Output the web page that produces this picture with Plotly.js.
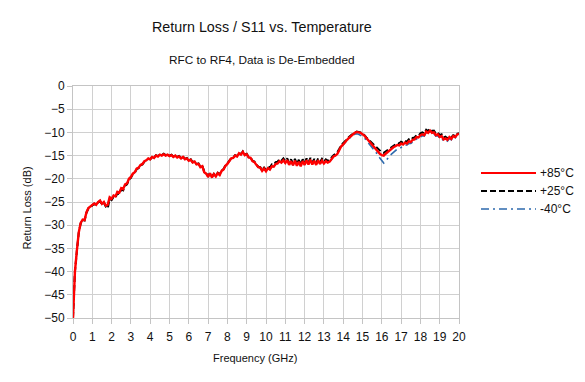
<!DOCTYPE html>
<html>
<head>
<meta charset="utf-8">
<script src="https://cdn.plot.ly/plotly-3.0.1.min.js"></script>
<style>html,body{margin:0;padding:0;background:#fff;}#chart{width:585px;height:382px;}</style>
</head>
<body>
<div id="chart"></div>
<script>
const freqGHz = [
0,0.1,0.2,0.3,0.4,0.5,0.6,0.7,0.8,0.9,
1,1.1,1.2,1.3,1.4,1.5,1.6,1.7,1.8,1.9,
2,2.1,2.2,2.3,2.4,2.5,2.6,2.7,2.8,2.9,
3,3.1,3.2,3.3,3.4,3.5,3.6,3.7,3.8,3.9,
4,4.1,4.2,4.3,4.4,4.5,4.6,4.7,4.8,4.9,
5,5.1,5.2,5.3,5.4,5.5,5.6,5.7,5.8,5.9,
6,6.1,6.2,6.3,6.4,6.5,6.6,6.7,6.8,6.9,
7,7.1,7.2,7.3,7.4,7.5,7.6,7.7,7.8,7.9,
8,8.1,8.2,8.3,8.4,8.5,8.6,8.7,8.8,8.9,
9,9.1,9.2,9.3,9.4,9.5,9.6,9.7,9.8,9.9,
10,10.1,10.2,10.3,10.4,10.5,10.6,10.7,10.8,10.9,
11,11.1,11.2,11.3,11.4,11.5,11.6,11.7,11.8,11.9,
12,12.1,12.2,12.3,12.4,12.5,12.6,12.7,12.8,12.9,
13,13.1,13.2,13.3,13.4,13.5,13.6,13.7,13.8,13.9,
14,14.1,14.2,14.3,14.4,14.5,14.6,14.7,14.8,14.9,
15,15.1,15.2,15.3,15.4,15.5,15.6,15.7,15.8,15.9,
16,16.1,16.2,16.3,16.4,16.5,16.6,16.7,16.8,16.9,
17,17.1,17.2,17.3,17.4,17.5,17.6,17.7,17.8,17.9,
18,18.1,18.2,18.3,18.4,18.5,18.6,18.7,18.8,18.9,
19,19.1,19.2,19.3,19.4,19.5,19.6,19.7,19.8,19.9,
20];

const s11_p85 = [
-50,-40,-35.5,-31.5,-29.5,-28.8,-28.9,-27.2,-26.3,-25.9,
-25.6,-25.3,-25.6,-25.0,-24.7,-25.4,-25.0,-25.8,-25.6,-24.0,
-24.3,-23.6,-23.8,-22.8,-23.0,-22.0,-22.2,-21.2,-21.0,-20.0,
-19.6,-18.9,-18.6,-17.8,-17.6,-17.0,-16.8,-16.2,-16.0,-15.6,
-15.8,-15.3,-15.5,-15.0,-15.2,-14.8,-15.0,-14.7,-15.0,-14.8,
-15.1,-14.9,-15.3,-15.0,-15.4,-15.2,-15.6,-15.3,-15.8,-15.6,
-16.1,-15.9,-16.5,-16.3,-16.9,-16.8,-17.5,-17.3,-18.6,-18.9,
-19.6,-18.8,-19.7,-19.0,-19.5,-18.8,-19.2,-18.3,-18.0,-17.2,
-16.8,-16.2,-15.6,-15.5,-15.0,-15.2,-14.5,-14.8,-14.2,-14.9,
-14.7,-15.4,-15.5,-16.2,-16.4,-17.0,-17.5,-17.6,-18.3,-17.8,
-18.4,-17.7,-18.0,-17.3,-17.4,-16.8,-16.7,-16.2,-16.5,-16.0,
-16.6,-16.0,-17.0,-16.2,-17.1,-16.1,-17.2,-16.3,-17.3,-16.2,
-17.0,-16.0,-16.9,-15.9,-16.9,-16.1,-17.0,-16.0,-16.8,-16.1,
-16.7,-16.2,-16.5,-16.3,-15.7,-15.2,-15.0,-14.6,-13.8,-13.0,
-12.6,-12.0,-11.6,-11.2,-10.8,-10.5,-10.1,-9.9,-10.0,-10.1,
-10.4,-10.7,-11.2,-11.7,-12.2,-12.6,-13.1,-13.6,-14.1,-14.6,
-14.9,-15.0,-14.6,-14.2,-13.8,-13.6,-13.2,-13.0,-12.7,-12.8,
-12.4,-12.6,-12.2,-12.4,-11.9,-12.1,-11.6,-11.5,-11.0,-11.1,
-10.6,-10.4,-10.6,-9.8,-10.1,-9.6,-10.1,-10.0,-10.6,-10.4,
-11.0,-10.8,-11.5,-11.3,-11.6,-11.0,-11.4,-10.8,-11.0,-10.5,
-10.3];

const s11_p25 = [
-50,-40,-35.6,-31.6,-29.6,-28.9,-29.0,-27.3,-26.4,-26.0,
-25.7,-25.4,-25.7,-25.1,-24.8,-25.6,-25.2,-26.0,-26.4,-24.3,
-24.6,-23.9,-24.1,-23.1,-23.3,-22.3,-22.5,-21.5,-21.2,-20.2,
-19.8,-19.0,-18.7,-17.9,-17.7,-17.1,-16.9,-16.3,-16.1,-15.7,
-15.8,-15.3,-15.4,-14.9,-15.1,-14.7,-14.9,-14.6,-14.9,-14.7,
-15.0,-14.8,-15.2,-14.9,-15.3,-15.1,-15.5,-15.2,-15.7,-15.5,
-16.0,-15.8,-16.4,-16.2,-16.8,-16.7,-17.4,-17.2,-18.4,-18.7,
-19.4,-18.7,-19.5,-18.9,-19.3,-18.7,-19.0,-18.2,-17.9,-17.1,
-16.7,-16.1,-15.5,-15.4,-14.9,-15.1,-14.4,-14.7,-14.1,-14.8,
-14.6,-15.3,-15.4,-16.1,-16.3,-16.9,-17.4,-17.5,-18.1,-17.6,
-18.1,-17.4,-17.6,-16.9,-17.0,-16.4,-16.3,-15.8,-16.1,-15.6,
-16.2,-15.6,-16.6,-15.8,-16.7,-15.7,-16.8,-15.9,-16.9,-15.8,
-16.6,-15.6,-16.5,-15.5,-16.5,-15.7,-16.6,-15.6,-16.4,-15.7,
-16.3,-15.8,-16.1,-15.9,-15.3,-14.9,-14.6,-14.2,-13.5,-12.7,
-12.3,-11.8,-11.4,-11.0,-10.6,-10.3,-10.0,-9.8,-9.9,-10.0,
-10.3,-10.6,-11.1,-11.5,-12.0,-12.3,-12.8,-13.2,-13.7,-14.1,
-14.3,-14.4,-14.1,-13.8,-13.4,-13.2,-12.8,-12.6,-12.3,-12.4,
-12.0,-12.2,-11.8,-12.0,-11.5,-11.7,-11.2,-11.1,-10.6,-10.7,
-10.2,-10.0,-10.2,-9.4,-9.7,-9.2,-9.7,-9.6,-10.2,-10.0,
-10.6,-10.4,-11.1,-10.9,-11.3,-10.8,-11.1,-10.6,-10.8,-10.3,
-10.2];

const s11_m40 = [
-50,-40,-35.5,-31.5,-29.5,-28.8,-28.9,-27.2,-26.3,-25.9,
-25.6,-25.3,-25.6,-25.0,-24.7,-25.4,-25.0,-25.8,-25.6,-24.0,
-24.3,-23.6,-23.8,-22.8,-23.0,-22.0,-22.2,-21.2,-21.0,-20.0,
-19.6,-18.9,-18.6,-17.8,-17.6,-17.0,-16.8,-16.2,-16.0,-15.6,
-15.8,-15.3,-15.5,-15.0,-15.2,-14.8,-15.0,-14.7,-15.0,-14.8,
-15.1,-14.9,-15.3,-15.0,-15.4,-15.2,-15.6,-15.3,-15.8,-15.6,
-16.1,-15.9,-16.5,-16.3,-16.9,-16.8,-17.5,-17.3,-18.6,-18.9,
-19.6,-18.8,-19.7,-19.0,-19.5,-18.8,-19.2,-18.3,-18.0,-17.2,
-16.8,-16.2,-15.6,-15.5,-15.0,-15.2,-14.5,-14.8,-14.2,-14.9,
-14.7,-15.4,-15.5,-16.2,-16.4,-17.0,-17.5,-17.6,-18.3,-17.8,
-18.4,-17.7,-18.0,-17.3,-17.4,-16.8,-16.7,-16.2,-16.5,-16.0,
-16.6,-16.0,-17.0,-16.2,-17.1,-16.1,-17.2,-16.3,-17.3,-16.2,
-17.0,-16.0,-16.9,-15.9,-16.9,-16.1,-17.0,-16.0,-16.8,-16.1,
-16.7,-16.2,-16.5,-16.3,-15.7,-15.2,-15.0,-14.6,-13.8,-13.0,
-12.7,-12.1,-11.7,-11.3,-10.9,-10.7,-10.4,-10.3,-10.4,-10.6,
-10.9,-11.2,-11.7,-12.2,-12.7,-13.2,-13.8,-14.3,-15.0,-15.6,
-16.2,-16.6,-16.2,-15.6,-15.1,-14.7,-14.3,-14.0,-13.6,-13.5,
-13.2,-13.1,-12.8,-12.7,-12.4,-12.4,-12.0,-11.8,-11.4,-11.4,
-11.0,-10.7,-10.8,-10.0,-10.3,-9.8,-10.3,-10.3,-10.8,-10.7,
-11.3,-11.2,-11.8,-11.6,-11.9,-11.3,-11.6,-11.0,-11.2,-10.7,
-10.5];

const seriesNames = ['+85°C', '+25°C', '-40°C'];
const titleText = 'Return Loss / S11 vs. Temperature';
const subtitleText = 'RFC to RF4, Data is De-Embedded';
const xTitle = 'Frequency (GHz)';
const yTitle = 'Return Loss (dB)';

const FONT = '"Liberation Sans", Arial, sans-serif';
const colors = {p85: '#ff0000', p25: '#000000', m40: '#2e6aad'};
const dashes = {p85: 'solid', p25: '6px,3px', m40: '8px,4px,2px,4px'};

const traces = [
  {x: freqGHz, y: s11_m40, name: seriesNames[2], type: 'scatter', mode: 'lines',
   line: {color: colors.m40, width: 1.6, dash: dashes.m40}, showlegend: false},
  {x: freqGHz, y: s11_p25, name: seriesNames[1], type: 'scatter', mode: 'lines',
   line: {color: colors.p25, width: 2, dash: dashes.p25}, showlegend: false},
  {x: freqGHz, y: s11_p85, name: seriesNames[0], type: 'scatter', mode: 'lines',
   line: {color: colors.p85, width: 2.4}, showlegend: false}
];

const legY = [0.625, 0.547, 0.470];
const legKeys = ['p85', 'p25', 'm40'];
const legWidths = [2, 2, 1.6];
const shapes = legKeys.map((k, i) => ({
  type: 'line', xref: 'paper', yref: 'paper',
  x0: 1.057, x1: 1.1995, y0: legY[i], y1: legY[i],
  line: {color: colors[k], width: legWidths[i], dash: dashes[k]}
}));

const annotations = [
  {text: titleText, xref: 'paper', yref: 'paper', x: 0.49, y: (382 - 27 - 64) / 232,
   xanchor: 'center', yanchor: 'middle', showarrow: false, font: {family: FONT, size: 14.3, color: '#111'}},
  {text: subtitleText, xref: 'paper', yref: 'paper', x: 0.49, y: (382 - 60 - 64) / 232,
   xanchor: 'center', yanchor: 'middle', showarrow: false, font: {family: FONT, size: 11.8, color: '#111'}},
  {text: xTitle, xref: 'paper', yref: 'paper', x: 0.472, y: (382 - 358 - 64) / 232,
   xanchor: 'center', yanchor: 'middle', showarrow: false, font: {family: FONT, size: 11, color: '#111'}},
  {text: yTitle, xref: 'paper', yref: 'paper', x: (26.5 - 73) / 386, y: (318 - 208) / 232,
   xanchor: 'center', yanchor: 'middle', textangle: -90, showarrow: false, font: {family: FONT, size: 11, color: '#111'}}
].concat(seriesNames.map((n, i) => ({
  text: n, xref: 'paper', yref: 'paper', x: 1.205, y: legY[i],
  xanchor: 'left', yanchor: 'middle', showarrow: false, font: {family: FONT, size: 12, color: '#111'}
})));

const layout = {
  width: 585, height: 382,
  margin: {l: 73, r: 126, t: 86, b: 64, pad: 0},
  paper_bgcolor: '#ffffff', plot_bgcolor: '#ffffff',
  font: {family: FONT, size: 12, color: '#111'},
  showlegend: false,
  xaxis: {range: [0, 20], dtick: 1, tick0: 0, showgrid: true, gridcolor: '#d0d0d0', gridwidth: 1,
    zeroline: false, showline: true, linecolor: '#c4c4c4', linewidth: 1, mirror: true,
    ticks: 'outside', ticklen: 5, tickcolor: '#c4c4c4', ticklabelstandoff: 3,
    tickfont: {family: FONT, size: 12, color: '#111'}, fixedrange: true},
  yaxis: {range: [-50, 0], dtick: 5, tick0: 0, showgrid: true, gridcolor: '#d0d0d0', gridwidth: 1,
    zeroline: false, showline: true, linecolor: '#c4c4c4', linewidth: 1, mirror: true,
    ticks: 'outside', ticklen: 5, tickcolor: '#c4c4c4',
    tickfont: {family: FONT, size: 12, color: '#111'}, fixedrange: true},
  shapes: shapes,
  annotations: annotations
};

Plotly.newPlot('chart', traces, layout, {displayModeBar: false, staticPlot: true});
</script>
</body>
</html>
